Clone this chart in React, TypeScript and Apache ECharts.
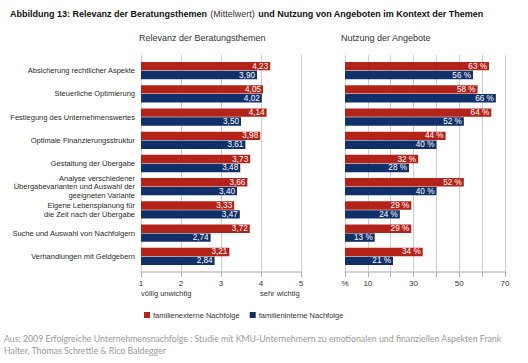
import React, { useEffect, useRef } from "react";
import * as echarts from "echarts";

const categories = [
  "Absicherung rechtlicher Aspekte",
  "Steuerliche Optimierung",
  "Festlegung des Unternehmenswertes",
  "Optimale Finanzierungsstruktur",
  "Gestaltung der Übergabe",
  "Analyse verschiedener\nÜbergabevarianten und Auswahl der\ngeeigneten Variante",
  "Eigene Lebensplanung für\ndie Zeit nach der Übergabe",
  "Suche und Auswahl von Nachfolgern",
  "Verhandlungen mit Geldgebern",
];
const seriesNames = ["familienexterne Nachfolge", "familieninterne Nachfolge"];
const relevanzExtern = [4.23, 4.05, 4.14, 3.98, 3.73, 3.66, 3.33, 3.72, 3.21];
const relevanzIntern = [3.9, 4.02, 3.5, 3.61, 3.48, 3.4, 3.47, 2.74, 2.84];
const nutzungExtern = [63, 58, 64, 44, 32, 52, 29, 29, 34];
const nutzungIntern = [56, 66, 52, 40, 28, 40, 24, 13, 21];
const relevanzTicks = ["1", "2", "3", "4", "5"];
const nutzungTicks: Record<number, string> = { 0: "%", 10: "10", 30: "30", 50: "50", 70: "70" };

const RED = "#b3231a";
const BLUE = "#10306a";
const FONT = "'Liberation Sans', Arial, Helvetica, sans-serif";

export default function App() {
  const ref = useRef<HTMLDivElement>(null);
  useEffect(() => {
    const chart = echarts.init(ref.current!, undefined, { renderer: "svg" });
    const axisGrid = (gi: number, min: number, max: number, fmt: (v: number) => string) => ({
      gridIndex: gi,
      type: "value",
      min,
      max,
      interval: (max - min) / (gi === 0 ? 4 : 7),
      axisLine: { show: true, onZero: false, lineStyle: { color: "#c4c4c4", width: 1.5 } },
      axisTick: { show: true, length: 5, lineStyle: { color: "#b0b0b0" } },
      splitLine: { show: true, lineStyle: { color: "#cdcdcd", width: 1 } },
      axisLabel: { margin: 7, fontSize: 8, color: "#333", fontFamily: FONT, formatter: fmt },
    });
    const hiddenX = (gi: number, min: number, max: number) => ({
      gridIndex: gi, type: "value", min, max, show: false,
    });
    const barLabel = (fmt: (v: number) => string) => ({
      show: true,
      position: "insideRight",
      distance: 2,
      color: "#fff",
      fontSize: 8.2,
      fontFamily: FONT,
      formatter: (p: any) => fmt(p.value),
    });
    const fmtDec = (v: number) => v.toFixed(2).replace(".", ",");
    const fmtPct = (v: number) => `${v} %`;
    const barCommon = { type: "bar", barWidth: 8.4, barGap: "6%" };
    const option: any = {
      animation: false,
      textStyle: { fontFamily: FONT },
      grid: [
        { left: 141, top: 55, width: 160, height: 217 },
        { left: 141, top: 59, width: 160, height: 209 },
        { left: 345, top: 55, width: 160, height: 217 },
        { left: 345, top: 59, width: 160, height: 209 },
      ],
      xAxis: [
        axisGrid(0, 1, 5, (v: number) => relevanzTicks[Math.round(v) - 1] ?? ""),
        hiddenX(1, 1, 5),
        axisGrid(2, 0, 70, (v: number) => nutzungTicks[Math.round(v)] ?? ""),
        hiddenX(3, 0, 70),
      ],
      yAxis: [
        { gridIndex: 0, type: "value", min: 0, max: 1, show: false },
        {
          gridIndex: 1,
          type: "category",
          data: categories,
          inverse: true,
          axisLine: { show: false },
          axisTick: { show: false },
          axisLabel: { margin: 6, fontSize: 7.5, lineHeight: 8.4, color: "#2a2a2a", fontFamily: FONT },
        },
        { gridIndex: 2, type: "value", min: 0, max: 1, show: false },
        { gridIndex: 3, type: "category", data: categories, inverse: true, show: false },
      ],
      legend: {
        left: 139,
        top: 306,
        icon: "rect",
        itemWidth: 6,
        itemHeight: 6,
        itemGap: 10,
        textStyle: { fontSize: 7.5, color: "#333", fontFamily: FONT, padding: [0, 0, 0, -2] },
        data: seriesNames,
      },
      series: [
        { ...barCommon, name: seriesNames[0], xAxisIndex: 1, yAxisIndex: 1, data: relevanzExtern, itemStyle: { color: RED }, label: barLabel(fmtDec) },
        { ...barCommon, name: seriesNames[1], xAxisIndex: 1, yAxisIndex: 1, data: relevanzIntern, itemStyle: { color: BLUE }, label: barLabel(fmtDec) },
        { ...barCommon, name: seriesNames[0], xAxisIndex: 3, yAxisIndex: 3, data: nutzungExtern, itemStyle: { color: RED }, label: barLabel(fmtPct) },
        { ...barCommon, name: seriesNames[1], xAxisIndex: 3, yAxisIndex: 3, data: nutzungIntern, itemStyle: { color: BLUE }, label: barLabel(fmtPct) },
      ],
      graphic: [
        {
          type: "text",
          left: 10,
          top: 8,
          style: {
            text: "{b|Abbildung 13: Relevanz der Beratungsthemen} {n|(Mittelwert)} {b|und Nutzung von Angeboten im Kontext der Themen}",
            rich: {
              b: { fontSize: 9, fontWeight: "bold", fill: "#111", fontFamily: FONT },
              n: { fontSize: 9, fill: "#333", fontFamily: FONT },
            },
          },
        },
        { type: "text", left: 139, top: 33, style: { text: "Relevanz der Beratungsthemen", fontSize: 9, fill: "#333", fontFamily: FONT } },
        { type: "text", left: 341, top: 33, style: { text: "Nutzung der Angebote", fontSize: 9, fill: "#333", fontFamily: FONT } },
        { type: "text", left: 141, top: 289, style: { text: "völlig unwichtig", fontSize: 7.5, fill: "#333", fontFamily: FONT } },
        { type: "text", left: 260, top: 289, style: { text: "sehr wichtig", fontSize: 7.5, fill: "#333", fontFamily: FONT } },
        {
          type: "text",
          left: 4,
          top: 332,
          style: {
            text: "Aus: 2009 Erfolgreiche Unternehmensnachfolge : Studie mit KMU-Unternehmern zu emotionalen und finanziellen Aspekten Frank\nHalter, Thomas Schrettle & Rico Baldegger",
            fontSize: 8.75,
            lineHeight: 12,
            fill: "#9a9a9a",
            fontFamily: "Lato, 'Open Sans', sans-serif",
          },
        },
      ],
    };
    chart.setOption(option);
    return () => chart.dispose();
  }, []);
  return <div ref={ref} style={{ position: "absolute", left: 0, top: 0, width: 528, height: 363, background: "#fff" }} />;
}
